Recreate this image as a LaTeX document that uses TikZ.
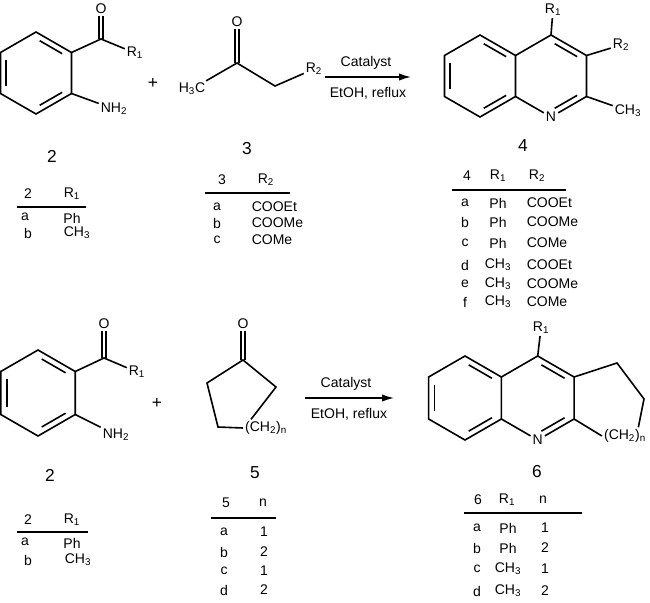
\documentclass[tikz,border=0pt]{standalone}
\usepackage{fontspec}
\setmainfont{Liberation Sans}
\usetikzlibrary{calc,arrows.meta}

\newcommand{\hexring}[3]{\foreach \i in {0,...,5}{\coordinate (#1\i) at ($(#2)+(-90+60*\i:#3)$);}}
\newcommand{\innerbond}[3]{\draw[shorten <=3.2pt,shorten >=3.2pt] ($(#1)!.16!(#3)$) -- ($(#2)!.16!(#3)$);}
\newcommand{\sub}[1]{\textsubscript{#1}}

\begin{document}
\begin{tikzpicture}[x=0.75pt,y=-0.75pt,line width=1.2pt,line join=miter,
                atom/.style={inner sep=1pt,font=\fontsize{10.5}{11}\selectfont},
                cmpd/.style={font=\fontsize{13}{14}\selectfont},
                cell/.style={inner sep=0pt,font=\fontsize{10.5}{11}\selectfont},
                rule/.style={line width=1.2pt}]
	\useasboundingbox (0,0) rectangle (650,603);

	% ---- top row: 2 + 3 -> 4
	\coordinate (ca) at (36,73);
	\hexring{A}{ca}{41}
	\draw (A0)--(A1)--(A2)--(A3)--(A4)--(A5)--cycle;
	\innerbond{A0}{A1}{ca} \innerbond{A2}{A3}{ca} \innerbond{A4}{A5}{ca}
	\coordinate (Ac) at (101,39);
	\node[atom] (Ao) at (101,9) {O};
	\node[atom] (Ar) at (135,53) {R\sub{1}};
	\node[atom] (An) at (114,109) {NH\sub{2}};
	\draw (A1) -- (Ac) -- (Ar);
	\draw ([xshift=-1.6pt]Ac) -- ([xshift=-1.6pt]Ao.south);
	\draw ([xshift=1.6pt]Ac) -- ([xshift=1.6pt]Ao.south);
	\draw (A2) -- (An);

	\node[cmpd] (plus1) at (153,83) {+};

	\node[atom] (Bm) at (192,89) {H\sub{3}C};
	\coordinate (Bc) at (237,63);
	\coordinate (Bh) at (275,86);
	\node[atom] (Bo) at (237,22) {O};
	\node[atom] (Br) at (314,69) {R\sub{2}};
	\draw (Bm) -- (Bc) -- (Bh) -- (Br);
	\draw ([xshift=-1.6pt]Bc) -- ([xshift=-1.6pt]Bo.south);
	\draw ([xshift=1.6pt]Bc) -- ([xshift=1.6pt]Bo.south);

	\coordinate (ar1s) at (325,77);
	\coordinate (ar1e) at (411,77);
	\draw[line width=1pt,-{Latex[length=9pt,width=5.5pt]}] (ar1s) -- (ar1e);
	\node[atom] (cat1) at (366,63) {Catalyst};
	\node[atom] (sol1) at (368,93) {EtOH, reflux};

	\coordinate (cq) at (480,76);
	\hexring{Q}{cq}{41}
	\coordinate (cp) at (551,76);
	\hexring{P}{cp}{41}
	\node[atom] (Nq) at (P3) {N};
	\draw (Q0)--(Q1)--(Q2)--(Q3)--(Q4)--(Q5)--cycle;
	\draw (Q1)--(P0)--(P1)--(P2)--(Nq)--(Q2);
	\innerbond{Q0}{Q1}{cq} \innerbond{Q2}{Q3}{cq} \innerbond{Q4}{Q5}{cq}
	\innerbond{P0}{P1}{cp} \innerbond{P2}{P3}{cp}
	\node[atom] (Qr1) at (553,10) {R\sub{1}};
	\node[atom] (Qr2) at (621,45) {R\sub{2}};
	\node[atom] (Qme) at (628,111) {CH\sub{3}};
	\draw (P0) -- (Qr1);
	\draw (P1) -- (Qr2);
	\draw (P2) -- (Qme);

	% ---- top tables
	\node[cmpd] (l2a) at (52,156) {2};
	\node[cmpd] (l3a) at (247,149) {3};
	\node[cmpd] (l4a) at (523,146) {4};

	\node[cell] at (28,194) {2};
	\node[cell] at (72,194) {R\sub{1}};
	\draw[rule] (17,207) -- (86,207);
	\node[cell] at (25,217) {a};
	\node[cell] at (72,218) {Ph};
	\node[cell] at (28,233) {b};
	\node[cell] at (77,233) {CH\sub{3}};

	\node[cell] at (222,180) {3};
	\node[cell] at (266,180) {R\sub{2}};
	\draw[rule] (205,193) -- (290,193);
	\foreach \r/\v [count=\k] in {a/COOEt,b/COOMe,c/COMe}
		\node[cell,anchor=west] at (251,190+16.5*\k) {\v};
	\foreach \r [count=\k] in {a,b,c}
		\node[cell] at (217,190+16.5*\k) {\r};

	\node[cell] at (467,176) {4};
	\node[cell] at (498,176) {R\sub{1}};
	\node[cell] at (537,176) {R\sub{2}};
	\draw[rule] (452,190) -- (566,190);
	\foreach \r/\a/\b/\y in {a/Ph/COOEt/203,b/Ph/COOMe/222,c/Ph/COMe/243,d/CH\sub{3}/COOEt/265,e/CH\sub{3}/COOMe/284,f/CH\sub{3}/COMe/302}{
		\node[cell] at (465,\y) {\r};
		\node[cell] at (498,\y) {\a};
		\node[cell,anchor=west] at (526,\y) {\b};
	}

	% ---- bottom row: 2 + 5 -> 6
	\coordinate (cc) at (38,393);
	\hexring{C}{cc}{43}
	\draw (C0)--(C1)--(C2)--(C3)--(C4)--(C5)--cycle;
	\innerbond{C0}{C1}{cc} \innerbond{C2}{C3}{cc} \innerbond{C4}{C5}{cc}
	\coordinate (Cc) at (104,358);
	\node[atom] (Co) at (104,324) {O};
	\node[atom] (Cr) at (137,372) {R\sub{1}};
	\node[atom] (Cn) at (116,435) {NH\sub{2}};
	\draw (C1) -- (Cc) -- (Cr);
	\draw ([xshift=-1.6pt]Cc) -- ([xshift=-1.6pt]Co.south);
	\draw ([xshift=1.6pt]Cc) -- ([xshift=1.6pt]Co.south);
	\draw (C2) -- (Cn);

	\node[cmpd] (plus2) at (157,403) {+};

	\coordinate (Dc) at (243,360);
	\coordinate (Dl) at (207,383);
	\coordinate (Db) at (218,427);
	\coordinate (Dr) at (276,387);
	\node[atom] (Do) at (243,324) {O};
	\node[atom,anchor=west] (Dn) at (243,428) {(CH\sub{2})\sub{n}};
	\draw (Dn.west) -- (Db) -- (Dl) -- (Dc) -- (Dr) -- ([xshift=6pt]Dn.north west);
	\draw ([xshift=-1.6pt]Dc) -- ([xshift=-1.6pt]Do.south);
	\draw ([xshift=1.6pt]Dc) -- ([xshift=1.6pt]Do.south);

	\coordinate (ar2s) at (305,398);
	\coordinate (ar2e) at (394,398);
	\draw[line width=1pt,-{Latex[length=9pt,width=5.5pt]}] (ar2s) -- (ar2e);
	\node[atom] (cat2) at (346,384) {Catalyst};
	\node[atom] (sol2) at (349,414) {EtOH, reflux};

	\coordinate (ce) at (465,398);
	\hexring{E}{ce}{42}
	\coordinate (cf) at (537.7,398);
	\hexring{F}{cf}{42}
	\node[atom] (Nf) at (F3) {N};
	\draw (E0)--(E1)--(E2)--(E3)--(E4)--(E5)--cycle;
	\draw (E1)--(F0)--(F1)--(F2)--(Nf)--(E2);
	\innerbond{E0}{E1}{ce} \innerbond{E2}{E3}{ce} \innerbond{E4}{E5}{ce}
	\innerbond{F0}{F1}{cf} \innerbond{F2}{F3}{cf}
	\node[atom] (Fr1) at (541,328) {R\sub{1}};
	\draw (F0) -- (Fr1);
	\coordinate (G1) at (617,363);
	\coordinate (G2) at (644,399);
	\node[atom] (Gn) at (625,436) {(CH\sub{2})\sub{n}};
	\draw (F1) -- (G1) -- (G2) -- ([xshift=10pt]Gn.north);
	\draw (F2) -- (Gn.west);

	% ---- bottom tables
	\node[cmpd] (l2b) at (50,475) {2};
	\node[cmpd] (l5b) at (255,473) {5};
	\node[cmpd] (l6b) at (537,472) {6};

	\node[cell] at (28,520) {2};
	\node[cell] at (72,520) {R\sub{1}};
	\draw[rule] (17,532) -- (88,532);
	\node[cell] at (25,542) {a};
	\node[cell] at (72,543) {Ph};
	\node[cell] at (28,560) {b};
	\node[cell] at (78,560) {CH\sub{3}};

	\node[cell] at (226,503) {5};
	\node[cell] at (263,503) {n};
	\draw[rule] (211,518) -- (276,518);
	\foreach \r/\v/\y in {a/1/532,b/2/552,c/1/571,d/2/590}{
		\node[cell] at (224,\y) {\r};
		\node[cell] at (264,\y) {\v};
	}

	\node[cell] at (478,500) {6};
	\node[cell] at (507,500) {R\sub{1}};
	\node[cell] at (543,500) {n};
	\draw[rule] (464,513) -- (582,513);
	\foreach \r/\a/\v/\y in {a/Ph/1/528,b/Ph/2/548,c/CH\sub{3}/1/569,d/CH\sub{3}/2/591}{
		\node[cell] at (477,\y) {\r};
		\node[cell] at (508,\y) {\a};
		\node[cell] at (545,\y) {\v};
	}
\end{tikzpicture}
\end{document}
